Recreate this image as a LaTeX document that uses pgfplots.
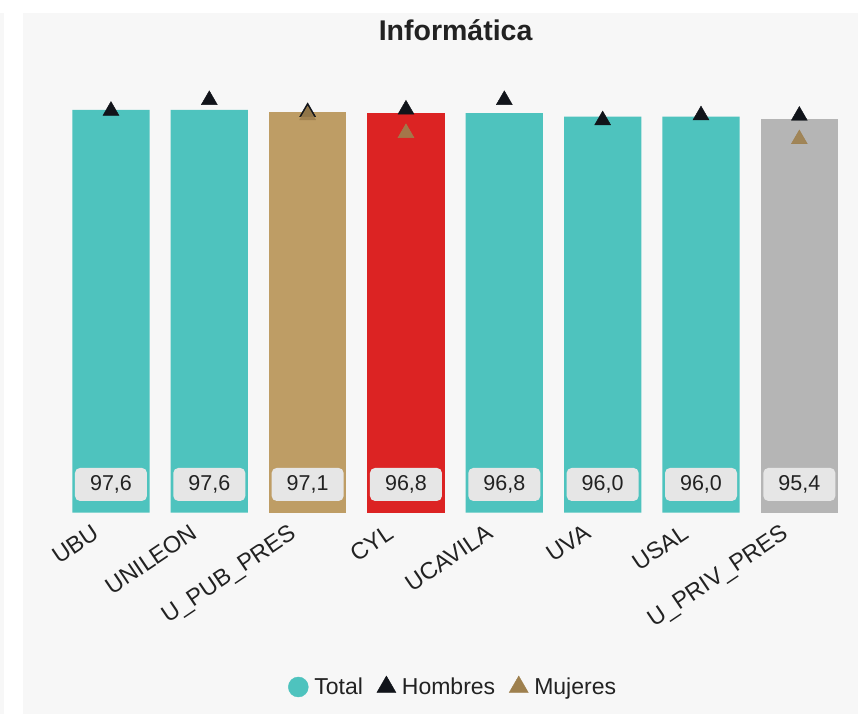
\documentclass[border=0pt]{standalone}
\usepackage{fontspec}
\setmainfont{Liberation Sans}
\usepackage{pgfplots}
\pgfplotsset{compat=1.18}
\usepackage{pgfplotstable}

\definecolor{panel}{HTML}{F7F7F7}
\definecolor{cteal}{HTML}{4EC3BE}
\definecolor{ctan}{HTML}{BE9D65}
\definecolor{cred}{HTML}{DC2323}
\definecolor{cgray}{HTML}{B5B5B5}
\definecolor{chom}{HTML}{11141A}
\definecolor{cmuj}{HTML}{9E804E}
\definecolor{clab}{HTML}{E6E6E6}
\definecolor{ctxt}{HTML}{222222}

% x: UBU, UNILEON, U_PUB_PRES, CYL, UCAVILA, UVA, USAL, U_PRIV_PRES
\pgfplotstableread{
x total hombres mujeres
0 97.6  97.4  nan
1 97.6  100.0 nan
2 97.1  97.1  96.3
3 96.8  97.7  92.0
4 96.8  100.0 nan
5 96.0  95.1  nan
6 96.0  96.3  nan
7 95.4  96.2  90.5
}\data

\begin{document}
\begin{tikzpicture}
\fill[white] (0,0) rectangle (858bp,-714bp);
\fill[panel] (22.5bp,-13bp) rectangle (858bp,-714bp);
\fill[panel] (0,-13bp) rectangle (4bp,-714bp);
\node[font=\bfseries\fontsize{28.5bp}{32bp}\selectfont, text=ctxt] at (455.6bp,-30bp) {Informática};

\begin{axis}[
    at={(61.8bp,-512.5bp)}, anchor=south west,
    scale only axis,
    width=786.7bp, height=412.5bp,
    xmin=-0.5, xmax=7.5, ymin=0, ymax=100,
    clip=false,
    axis line style={draw=none},
    tick style={draw=none},
    ytick=\empty,
    xtick={0,...,7},
    xticklabels={UBU, UNILEON, U\_PUB\_PRES, CYL, UCAVILA, UVA, USAL, U\_PRIV\_PRES},
    xticklabel style={rotate=34, anchor=north east, inner sep=0pt,
        font=\fontsize{23.5bp}{27bp}\selectfont, text=ctxt, xshift=-22bp, yshift=2bp},
    /pgf/number format/.cd, fixed, fixed zerofill, precision=1, use comma, assume math mode=true,
    /pgfplots/.cd,
    legend style={at={(0.4975,-0.423)}, anchor=center, draw=none, fill=none,
        legend columns=-1, inner sep=0pt,
        font=\fontsize{23bp}{27bp}\selectfont, text=ctxt,
        /tikz/every odd column/.append style={column sep=4bp},
        /tikz/every even column/.append style={column sep=12bp}},
]
\addplot[ybar, bar width=77.3bp, fill=cteal, draw=none, forget plot]
    coordinates {(0,97.6) (1,97.6) (4,96.8) (5,96.0) (6,96.0)};
\addplot[ybar, bar width=77.3bp, fill=ctan, draw=none, forget plot]
    coordinates {(2,97.1)};
\addplot[ybar, bar width=77.3bp, fill=cred, draw=none, forget plot]
    coordinates {(3,96.8)};
\addplot[ybar, bar width=77.3bp, fill=cgray, draw=none, forget plot]
    coordinates {(7,95.4)};

% value labels at the foot of the bars
\addplot[draw=none, mark=none, forget plot, point meta=explicit,
    nodes near coords,
    nodes near coords style={anchor=center, fill=clab, rounded corners=5bp,
        minimum width=72bp, minimum height=33bp, inner sep=0pt, text=ctxt,
        font=\fontsize{21.5bp}{24bp}\selectfont}]
    table[x=x, y expr=6.8, meta=total] {\data};

\addplot[only marks, mark=triangle*, mark size=9.2bp, color=chom, forget plot]
    table[x=x, y=hombres] {\data};
\addplot[only marks, mark=triangle*, mark size=9.2bp, color=cmuj, opacity=0.9, forget plot]
    table[x=x, y=mujeres] {\data};

\addlegendimage{only marks, mark=*, mark size=10bp, color=cteal}
\addlegendimage{only marks, mark=triangle*, mark size=11bp, color=chom}
\addlegendimage{only marks, mark=triangle*, mark size=11bp, color=cmuj}
\legend{Total, Hombres, Mujeres}
\end{axis}
\pgfresetboundingbox
\path[use as bounding box] (0,0) rectangle (858bp,-714bp);
\end{tikzpicture}
\end{document}
